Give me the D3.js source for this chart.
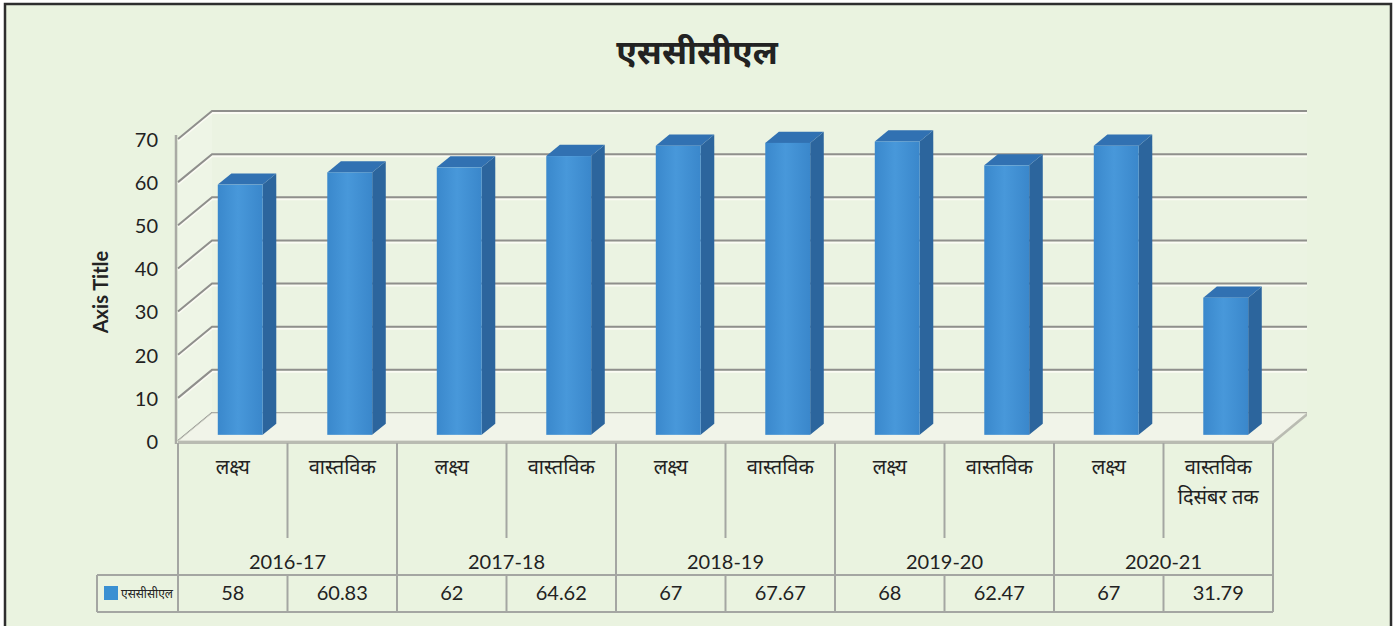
<!DOCTYPE html>
<html>
<head>
<meta charset="utf-8">
<script src="https://cdn.jsdelivr.net/npm/d3@7"></script>
<style>
  html, body { margin: 0; padding: 0; background: #ffffff; }
  svg { display: block; }
  .hi { font-family: "Noto Sans Devanagari", "Lohit Devanagari", "Noto Sans", sans-serif; }
  .num { font-family: Lato, "Open Sans", sans-serif; }
</style>
</head>
<body>
<svg id="chart" width="1400" height="626"></svg>
<script>
// chart data
var title = "एससीसीएल";
var seriesName = "एससीसीएल";
var years = ["2016-17", "2017-18", "2018-19", "2019-20", "2020-21"];
var categories = ["लक्ष्य", "वास्तविक", "लक्ष्य", "वास्तविक", "लक्ष्य", "वास्तविक", "लक्ष्य", "वास्तविक", "लक्ष्य", "वास्तविक\nदिसंबर तक"];
var values = [58, 60.83, 62, 64.62, 67, 67.67, 68, 62.47, 67, 31.79];
var yTicks = [0, 10, 20, 30, 40, 50, 60, 70];

var width = 1400, height = 626;
var svg = d3.select("#chart");

// 3d offsets of the back wall
var DX = 34, DY = 28;
var barD0 = 0.22, barD1 = 0.62;

var x = d3.scaleBand()
    .domain(d3.range(values.length))
    .range([178, 1273])
    .paddingInner(0.59)
    .paddingOuter(0.295);

var y = d3.scaleLinear().domain([0, 70]).range([441, 139]);

var step = x.step();
var left = x.range()[0], right = x.range()[1];

// background + border
svg.append("rect").attr("x", 5).attr("y", 4).attr("width", 1386).attr("height", 640)
    .attr("fill", "#eaf3e0").attr("stroke", "#2e2e2e").attr("stroke-width", 2.5);

var defs = svg.append("defs");
var gFront = defs.append("linearGradient").attr("id", "front");
gFront.append("stop").attr("offset", "0%").attr("stop-color", "#3a88cc");
gFront.append("stop").attr("offset", "45%").attr("stop-color", "#4898da");
gFront.append("stop").attr("offset", "100%").attr("stop-color", "#3a87cb");

// title
svg.append("text").attr("class", "hi")
    .attr("x", 697).attr("y", 64)
    .attr("text-anchor", "middle")
    .attr("font-size", 34).attr("font-weight", "bold").attr("fill", "#222")
    .text(title);

// walls
var plot = svg.append("g");
plot.append("polygon")
    .attr("points", [[left, y(70)], [left + DX, y(70) - DY], [left + DX, y(0) - DY], [left, y(0)]].join(" "))
    .attr("fill", "#eef5e6");
plot.append("rect")
    .attr("x", left + DX).attr("y", y(70) - DY)
    .attr("width", right - left).attr("height", y(0) - y(70))
    .attr("fill", "#ebf3e2");

// gridlines, back wall + side wall
yTicks.forEach(function (v) {
    var yf = y(v), yb = y(v) - DY;
    plot.append("path")
        .attr("d", "M" + left + "," + (yf + 2) + "L" + (left + DX) + "," + (yb + 2) + "L" + (right + DX) + "," + (yb + 2))
        .attr("fill", "none").attr("stroke", "#fbfbf4").attr("stroke-width", 2);
    plot.append("path")
        .attr("d", "M" + left + "," + yf + "L" + (left + DX) + "," + yb + "L" + (right + DX) + "," + yb)
        .attr("fill", "none").attr("stroke", "#8f8f8c").attr("stroke-width", 2);
});

// floor
plot.append("polygon")
    .attr("points", [[left, y(0)], [right, y(0)], [right + DX, y(0) - DY], [left + DX, y(0) - DY]].join(" "))
    .attr("fill", "#f1f4e9").attr("stroke", "#c9cbc0").attr("stroke-width", 1);
plot.append("polygon")
    .attr("points", [[left, y(0)], [right, y(0)], [right + DX, y(0) - DY], [right + DX, y(0) - DY + 3], [right, y(0) + 3], [left, y(0) + 3]].join(" "))
    .attr("fill", "#b9bbb2");

// front axis line
plot.append("line")
    .attr("x1", left - 2).attr("x2", left - 2)
    .attr("y1", y(70) - 4).attr("y2", y(0) + 3)
    .attr("stroke", "#a9aaa4").attr("stroke-width", 2.5);

// bars
var bars = plot.selectAll(".bar").data(values).enter().append("g").attr("class", "bar");
var dx0 = barD0 * DX, dy0 = barD0 * DY, dx1 = barD1 * DX, dy1 = barD1 * DY;
bars.append("polygon")
    .attr("points", function (d, i) {
        var xr = x(i) + x.bandwidth();
        return [[xr + dx0, y(d) - dy0], [xr + dx1, y(d) - dy1], [xr + dx1, y(0) - dy1], [xr + dx0, y(0) - dy0]].join(" ");
    })
    .attr("fill", "#2c659d");
bars.append("polygon")
    .attr("points", function (d, i) {
        var xl = x(i), xr = x(i) + x.bandwidth();
        return [[xl + dx0, y(d) - dy0], [xl + dx1, y(d) - dy1], [xr + dx1, y(d) - dy1], [xr + dx0, y(d) - dy0]].join(" ");
    })
    .attr("fill", "#3171b2");
bars.append("rect")
    .attr("x", function (d, i) { return x(i) + dx0; })
    .attr("y", function (d) { return y(d) - dy0; })
    .attr("width", x.bandwidth())
    .attr("height", function (d) { return y(0) - y(d); })
    .attr("fill", "url(#front)");

// y axis labels
var yAxis = svg.append("g")
    .attr("transform", "translate(158,1)")
    .call(d3.axisLeft(y).tickValues(yTicks).tickSize(0).tickPadding(0));
yAxis.select(".domain").remove();
yAxis.selectAll("text").attr("class", "num").attr("font-size", 20).attr("fill", "#222");

svg.append("text").attr("class", "num")
    .attr("transform", "translate(108,292) rotate(-90)")
    .attr("text-anchor", "middle")
    .attr("font-size", 20).attr("font-weight", "bold").attr("fill", "#222")
    .text("Axis Title");

// data table
var table = svg.append("g").attr("stroke", "#a4a6a2").attr("stroke-width", 2).attr("fill", "none");
var tTop = 443, tInner = 538, tRow = 575, tBot = 612, legendLeft = 97;

d3.range(values.length + 1).forEach(function (i) {
    var xx = left + i * step;
    var isGroup = i % 2 === 0;
    table.append("line")
        .attr("x1", xx).attr("x2", xx)
        .attr("y1", tTop)
        .attr("y2", isGroup ? tBot : tInner);
    if (!isGroup) {
        table.append("line").attr("x1", xx).attr("x2", xx).attr("y1", tRow).attr("y2", tBot);
    }
});
table.append("line").attr("x1", legendLeft).attr("x2", right).attr("y1", tRow).attr("y2", tRow);
table.append("line").attr("x1", legendLeft).attr("x2", right).attr("y1", tBot).attr("y2", tBot);
table.append("line").attr("x1", legendLeft).attr("x2", legendLeft).attr("y1", tRow).attr("y2", tBot);

// category labels
var catText = svg.selectAll(".cat").data(categories).enter().append("text")
    .attr("class", "cat hi")
    .attr("text-anchor", "middle")
    .attr("font-size", 20).attr("fill", "#222");
catText.each(function (d, i) {
    var lines = d.split("\n");
    var t = d3.select(this);
    lines.forEach(function (ln, k) {
        t.append("tspan")
            .attr("x", left + (i + 0.5) * step)
            .attr("y", 474 + k * 30)
            .text(ln);
    });
});

// year labels
svg.selectAll(".year").data(years).enter().append("text")
    .attr("class", "year num")
    .attr("x", function (d, i) { return left + (i * 2 + 1) * step; })
    .attr("y", 569)
    .attr("text-anchor", "middle")
    .attr("font-size", 20).attr("fill", "#222")
    .text(function (d) { return d; });

// value row
svg.selectAll(".val").data(values).enter().append("text")
    .attr("class", "val num")
    .attr("x", function (d, i) { return left + (i + 0.5) * step; })
    .attr("y", 600)
    .attr("text-anchor", "middle")
    .attr("font-size", 20).attr("fill", "#222")
    .text(function (d) { return String(d); });

// legend key
svg.append("rect").attr("x", 104).attr("y", 586).attr("width", 14).attr("height", 14).attr("fill", "#3a90d2");
svg.append("text").attr("class", "hi")
    .attr("x", 121).attr("y", 598)
    .attr("font-size", 12).attr("fill", "#222")
    .text(seriesName);
</script>
</body>
</html>
